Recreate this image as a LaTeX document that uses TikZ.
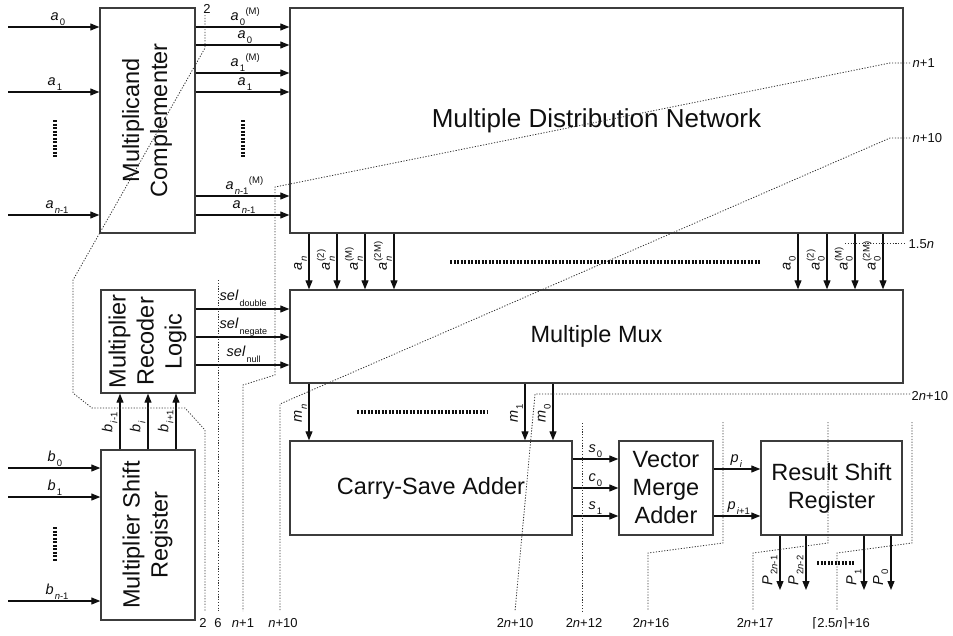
\documentclass[tikz,border=0pt]{standalone}
\usepackage{fontspec}
\setmainfont{Liberation Sans}
\newfontfamily\ceilfont{DejaVu Sans}
\usetikzlibrary{arrows.meta}
\definecolor{MulInk}{RGB}{15,15,15}
\definecolor{MulFrame}{RGB}{60,60,60}
\definecolor{MulCut}{RGB}{50,50,50}
\newcommand{\lsub}[1]{\kern1pt\raisebox{-5pt}{\fontsize{9.5}{10}\selectfont #1}}
\newcommand{\lsup}[1]{\kern0.5pt\raisebox{5.5pt}{\fontsize{9.5}{10}\selectfont #1}}
\newcommand{\lboth}[2]{\kern1pt\rlap{\raisebox{-5pt}{\fontsize{9.5}{10}\selectfont #1}}\raisebox{6pt}{\fontsize{9.5}{10}\selectfont #2}}
\newcommand{\lsel}[1]{\kern1pt\raisebox{-6.5pt}{\fontsize{9}{10}\selectfont #1}}
\tikzset{
  mul/box/.style={
    draw=MulFrame,
    line width=1.4pt,
    fill=white,
    align=center,
    text=MulInk,
    inner sep=0pt,
    font=\fontsize{23.5}{28}\selectfont
  },
  mul/arrow/.style={-{Triangle[length=9pt,width=7pt]}, line width=1.1pt, draw=MulInk},
  mul/cut/.style={line width=0.8pt, draw=MulCut, dash pattern=on 1.2pt off 1.6pt},
  mul/dots/.style={line width=4pt, draw=MulInk, dash pattern=on 2pt off 1.5pt},
  mul/sig/.style={font=\fontsize{14.5}{15}\selectfont, text=MulInk, inner sep=0.5pt},
  mul/tick/.style={font=\fontsize{13}{14}\selectfont, text=MulInk, inner sep=0.5pt}
}

\begin{document}
\begin{tikzpicture}[x=1pt,y=-1pt]
  \useasboundingbox (0,0) rectangle (953,635);
  % blocks
  \node[mul/box,minimum width=95pt,minimum height=225pt] (comp) at (147.5,120.5)
    {\rotatebox{90}{\begin{tabular}{@{}c@{}}Multiplicand\\Complementer\end{tabular}}};
  \node[mul/box,minimum width=613pt,minimum height=225pt,font=\fontsize{26}{30}\selectfont] (mdn) at (596.5,120.5) {Multiple Distribution Network};
  \node[mul/box,minimum width=613pt,minimum height=93pt] (mux) at (596.5,336.5) {Multiple Mux};
  \node[mul/box,minimum width=94pt,minimum height=103pt] (rec) at (148,341.5)
    {\rotatebox{90}{\begin{tabular}{@{}c@{}}Multiplier\\Recoder\\Logic\end{tabular}}};
  \node[mul/box,minimum width=94pt,minimum height=170pt] (msr) at (148,535)
    {\rotatebox{90}{\begin{tabular}{@{}c@{}}Multiplier Shift\\Register\end{tabular}}};
  \node[mul/box,minimum width=282pt,minimum height=94pt] (csa) at (431,488) {Carry-Save Adder};
  \node[mul/box,minimum width=94pt,minimum height=94pt] (vma) at (666,488) {Vector\\Merge\\Adder};
  \node[mul/box,minimum width=141pt,minimum height=94pt] (rsr) at (831.5,488) {Result Shift\\Register};

  % multiplicand in
  \foreach \y/\x/\t [count=\i] in {27/50/0, 92/47/1, 215/45/{\textit{n}-1}}{
    \coordinate (ina\i) at (8,\y);
    \draw[mul/arrow] (ina\i) -- (comp.west |- ina\i);
    \node[mul/sig,anchor=base west] (la\i) at (\x,\y-7) {\textit{a}\lsub{\t}};
  }
  % complemented multiplicand
  \foreach \y/\x/\t [count=\i] in {27/230/{\lsub{0}\lsup{(M)}}, 45/237/{\lsub{0}},
      73/230/{\lsub{1}\lsup{(M)}}, 92/237/{\lsub{1}},
      196/225/{\lsub{\textit{n}-1}\lsup{(M)}}, 215/232/{\lsub{\textit{n}-1}}}{
    \draw[mul/arrow] (comp.east |- 0,\y) -- (mdn.west |- 0,\y);
    \node[mul/sig,anchor=base west] (lc\i) at (\x,\y-7) {\textit{a}\t};
  }
  % multiples
  \foreach \x/\t [count=\i] in {309/{\lsub{\textit{n}}}, 337/{\lboth{\textit{n}}{(2)}},
      365/{\lboth{\textit{n}}{(M)}}, 394/{\lboth{\textit{n}}{(2M)}},
      798/{\lsub{0}}, 827/{\lboth{0}{(2)}}, 855/{\lboth{0}{(M)}}, 883/{\lboth{0}{(2M)}}}{
    \draw[mul/arrow] (mdn.south -| \x,0) -- (mux.north -| \x,0);
    \node[mul/sig,rotate=90,anchor=south west] (lm\i) at (\x-1.5,271) {\textit{a}\t};
  }
  % select lines
  \foreach \y/\x/\t [count=\i] in {309/219/double, 337/219/negate, 365/226/null}{
    \draw[mul/arrow] (rec.east |- 0,\y) -- (mux.west |- 0,\y);
    \node[mul/sig,anchor=base west] (ls\i) at (\x,\y-9) {\textit{sel}\lsel{\t}};
  }
  % recoder bits
  \foreach \x/\t [count=\i] in {120/{\textit{i}-1}, 148/{\textit{i}}, 176/{\textit{i}+1}}{
    \draw[mul/arrow] (msr.north -| \x,0) -- (rec.south -| \x,0);
    \node[mul/sig,rotate=90,anchor=south west] (lb\i) at (\x-2,433) {\textit{b}\lsub{\t}};
  }
  % multiplier in
  \foreach \y/\x/\t [count=\i] in {468/47/0, 497/47/1, 601/45/{\textit{n}-1}}{
    \coordinate (inb\i) at (8,\y);
    \draw[mul/arrow] (inb\i) -- (msr.west |- inb\i);
    \node[mul/sig,anchor=base west] (lib\i) at (\x,\y-7) {\textit{b}\lsub{\t}};
  }
  % selected multiples
  \foreach \x/\t [count=\i] in {309/{\textit{n}}, 525/1, 553/0}{
    \draw[mul/arrow] (mux.south -| \x,0) -- (csa.north -| \x,0);
    \node[mul/sig,rotate=90,anchor=south west] (lmm\i) at (\x-1.5,423) {\textit{m}\lsub{\t}};
  }
  % sum / carry
  \foreach \y/\t/\s [count=\i] in {459/s/0, 488/c/0, 516/s/1}{
    \draw[mul/arrow] (csa.east |- 0,\y) -- (vma.west |- 0,\y);
    \node[mul/sig,anchor=base west] (lsc\i) at (588,\y-7) {\textit{\t}\lsub{\s}};
  }
  % product bits
  \foreach \y/\x/\t [count=\i] in {469/730/{\textit{i}}, 516/727/{\textit{i}+1}}{
    \draw[mul/arrow] (vma.east |- 0,\y) -- (rsr.west |- 0,\y);
    \node[mul/sig,anchor=base west] (lp\i) at (\x,\y-7) {\textit{p}\lsub{\t}};
  }
  % result out
  \foreach \x/\t [count=\i] in {780/{2\textit{n}-1}, 806/{2\textit{n}-2}, 864/1, 891/0}{
    \coordinate (outp\i) at (\x,590);
    \draw[mul/arrow] (rsr.south -| outp\i) -- (outp\i);
    \node[mul/sig,rotate=90,anchor=south west] (lP\i) at (\x-2,586) {\textit{P}\lsub{\t}};
  }

  % ellipsis
  \draw[mul/dots] (55,120) -- (55,157);
  \draw[mul/dots] (243,120) -- (243,157);
  \draw[mul/dots] (55,527) -- (55,562);
  \draw[mul/dots] (450,262) -- (760,262);
  \draw[mul/dots] (357,412) -- (488,412);
  \draw[mul/dots] (817,563) -- (855,563);

  % pipeline cuts
  \draw[mul/cut] (205,15) -- (205,48) -- (73,280) -- (73,393) -- (92,408) -- (185,408) -- (205,430) -- (205,611);
  \draw[mul/cut] (218,280) -- (218,611);
  \draw[mul/cut] (910,63) -- (890,63) -- (275,187) -- (275,375) -- (243,385) -- (243,611);
  \draw[mul/cut] (910,138) -- (890,138) -- (280,404) -- (280,611);
  \draw[mul/cut] (845,243) -- (906,243);
  \draw[mul/cut] (910,394) -- (535,394) -- (515,611);
  \draw[mul/cut] (582,423) -- (582,611);
  \foreach \x in {723,828,912}
    \draw[mul/cut] (\x,422) -- (\x,543) -- (\x-75,553) -- (\x-75,611);

  \node[mul/tick] (t2a) at (207,9) {2};
  \node[mul/tick,anchor=west] (tn1) at (912,63) {\textit{n}+1};
  \node[mul/tick,anchor=west] (tn10) at (912,138) {\textit{n}+10};
  \node[mul/tick,anchor=west] (t15n) at (908,244) {1.5\textit{n}};
  \node[mul/tick,anchor=west] (t2n10r) at (911,396) {2\textit{n}+10};
  \foreach \x/\t [count=\i] in {203/2, 218/6, 243/{\textit{n}+1}, 283/{\textit{n}+10},
      515/{2\textit{n}+10}, 584/{2\textit{n}+12}, 651/{2\textit{n}+16}, 755/{2\textit{n}+17},
      841/{{\ceilfont⌈}2.5\textit{n}{\ceilfont⌉}+16}}
    \node[mul/tick,anchor=base] (tb\i) at (\x,627) {\t};
\end{tikzpicture}
\end{document}
